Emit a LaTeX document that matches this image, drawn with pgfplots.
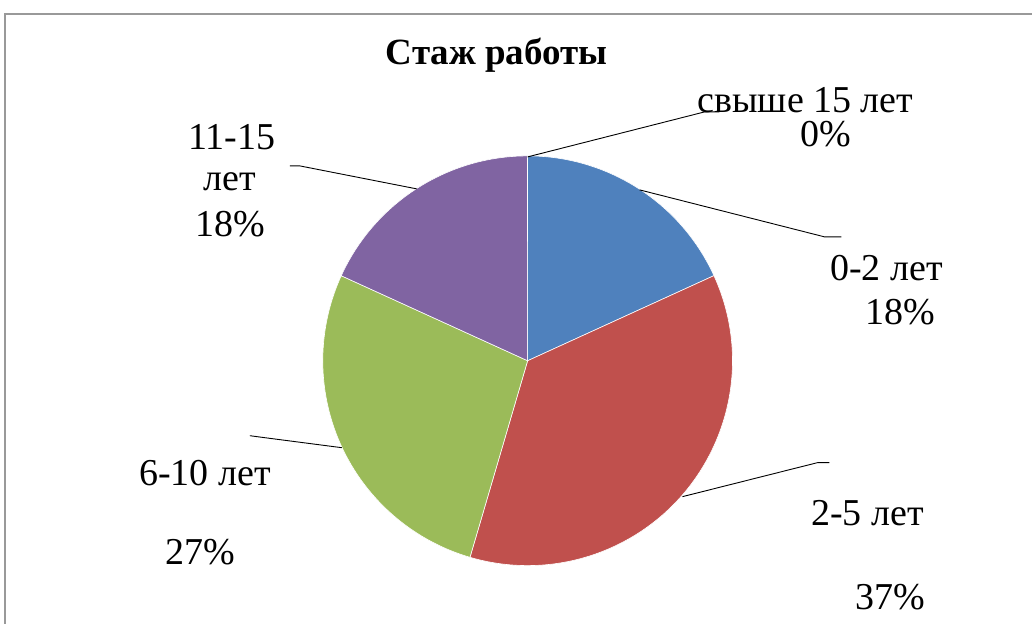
\documentclass[border=0pt]{standalone}
\usepackage{fontspec}
\setmainfont{Liberation Serif}
\usepackage{pgfplots}
\pgfplotsset{compat=1.18}
\definecolor{sA}{HTML}{4F81BD}
\definecolor{sB}{HTML}{C0504D}
\definecolor{sC}{HTML}{9BBB59}
\definecolor{sD}{HTML}{8064A2}
% share of each category, percent
\def\slices{18.18/sA, 36.36/sB, 27.27/sC, 18.18/sD, 0/sA}
\begin{document}
\begin{tikzpicture}[lab/.style={font=\fontsize{38}{42}\selectfont, inner sep=0pt}]
\begin{axis}[scale only axis, width=1033pt, height=624pt,
  xmin=0, xmax=1033, ymin=0, ymax=624, y dir=reverse,
  hide axis, clip=false]
\path (axis cs:0,0) rectangle (axis cs:1033,624);
\draw[gray!80, line width=1.5pt] (axis cs:5,624) -- (axis cs:5,14) -- (axis cs:1033,14);
\xdef\angstart{90}
\foreach \v/\c in \slices {
  \pgfmathsetmacro\angend{\angstart - 3.6*\v}
  \edef\doit{\noexpand\fill[\c, draw=white, line width=0.6pt] (axis cs:528,361) -- ++(\angstart:205pt) arc[start angle=\angstart, end angle=\angend, radius=205pt] -- cycle;}
  \doit
  \xdef\angstart{\angend}
}
% leader lines
\draw[black, line width=0.9pt] (axis cs:528,157) -- (axis cs:705,112) -- (axis cs:720,112);
\draw[black, line width=0.9pt] (axis cs:640,190) -- (axis cs:825,237) -- (axis cs:842,237);
\draw[black, line width=0.9pt] (axis cs:683,497) -- (axis cs:818,463) -- (axis cs:830,463);
\draw[black, line width=0.9pt] (axis cs:342,448) -- (axis cs:265,438) -- (axis cs:250,436);
\draw[black, line width=0.9pt] (axis cs:417,189) -- (axis cs:300,166) -- (axis cs:290,166);
% title
\node[font=\fontsize{37}{40}\selectfont\bfseries, inner sep=0pt] at (axis cs:497,55) {Стаж работы};
% labels
\node[lab] at (axis cs:806,100) {свыше 15 лет};
\node[lab] at (axis cs:826,134) {0\%};
\node[lab] at (axis cs:887,268) {0-2 лет};
\node[lab] at (axis cs:901,312) {18\%};
\node[lab] at (axis cs:868,513) {2-5 лет};
\node[lab] at (axis cs:891,598) {37\%};
\node[lab] at (axis cs:205,473) {6-10 лет};
\node[lab] at (axis cs:200,553) {27\%};
\node[lab] at (axis cs:232,137) {11-15};
\node[lab] at (axis cs:230,182) {лет};
\node[lab] at (axis cs:230,224) {18\%};
\end{axis}
\end{tikzpicture}
\end{document}
